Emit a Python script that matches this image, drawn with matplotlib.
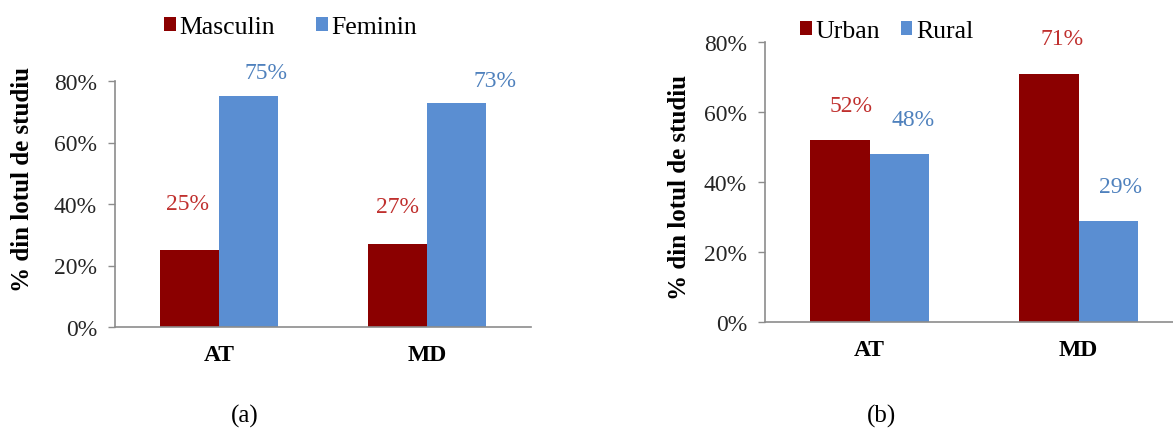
import matplotlib
matplotlib.use("Agg")
import matplotlib.pyplot as plt
from matplotlib.ticker import PercentFormatter

plt.rcParams["font.family"] = ["Liberation Serif", "DejaVu Serif"]

categories = ["AT", "MD"]

# panel (a): sex
sex_labels = ["Masculin", "Feminin"]
masculin = [0.25, 0.27]
feminin = [0.75, 0.73]

# panel (b): residence
res_labels = ["Urban", "Rural"]
urban = [0.52, 0.71]
rural = [0.48, 0.29]

# hand placed value labels (x offset from category, y in data units), like in the source
labels_a = [
    [(-0.15, 0.40), (-0.14, 0.393)],
    [(0.226, 0.829), (0.327, 0.80)],
]
labels_b = [
    [(-0.09, 0.62), (-0.077, 0.81)],
    [(0.21, 0.58), (0.20, 0.386)],
]

RED = "#8B0000"
BLUE = "#5A8ED2"
RED_TXT = "#C0302E"
BLUE_TXT = "#4F81BD"
AXIS = "#8C8C8C"
FS = 17

W, H = 1173, 439
fig = plt.figure(figsize=(W / 100, H / 100), dpi=100)


def px_axes(left, right, top, bottom):
    return fig.add_axes([left / W, (H - bottom) / H, (right - left) / W, (bottom - top) / H])


def draw_panel(ax, s1, s2, names, lab_pos):
    x = range(len(categories))
    width = 0.285
    b1 = ax.bar([i - width / 2 for i in x], s1, width, color=RED, label=names[0])
    b2 = ax.bar([i + width / 2 for i in x], s2, width, color=BLUE, label=names[1])
    for series, pos, col in ((s1, lab_pos[0], RED_TXT), (s2, lab_pos[1], BLUE_TXT)):
        for i, v in enumerate(series):
            dx, y = pos[i]
            ax.text(i + dx, y, f"{v:.0%}", color=col, fontsize=FS, ha="center", va="center")
    ax.set_xlim(-0.5, 1.5)
    ax.set_ylim(0, 0.8)
    ax.set_yticks([0, 0.2, 0.4, 0.6, 0.8])
    ax.yaxis.set_major_formatter(PercentFormatter(1.0, decimals=0))
    ax.set_xticks(list(x))
    ax.set_xticklabels(categories, fontweight="bold", fontsize=FS)
    ax.tick_params(axis="x", length=0, pad=12)
    ax.tick_params(axis="y", length=5, width=1, color=AXIS, pad=8, labelsize=FS, labelcolor="#262626")
    for side in ("top", "right"):
        ax.spines[side].set_visible(False)
    for side in ("left", "bottom"):
        ax.spines[side].set_color(AXIS)
        ax.spines[side].set_linewidth(1.2)
    return b1, b2


ax_a = px_axes(115, 531, 82, 328)
draw_panel(ax_a, masculin, feminin, sex_labels, labels_a)
ax_a.legend(loc="center left", bbox_to_anchor=(164 / W, (H - 28) / H), bbox_transform=fig.transFigure,
            ncol=2, frameon=False, fontsize=FS + 1.5, handlelength=0.45, handleheight=0.45,
            handletextpad=0.15, columnspacing=1.6, borderpad=0, borderaxespad=0)

ax_b = px_axes(765, 1183, 43, 323)
draw_panel(ax_b, urban, rural, res_labels, labels_b)
ax_b.legend(loc="center left", bbox_to_anchor=(800 / W, (H - 32) / H), bbox_transform=fig.transFigure,
            ncol=2, frameon=False, fontsize=FS + 1.5, handlelength=0.45, handleheight=0.45,
            handletextpad=0.15, columnspacing=0.8, borderpad=0, borderaxespad=0)

ylab = "% din lotul de studiu"
fig.text(23 / W, (H - 180) / H, ylab, rotation=90, fontsize=18, fontweight="bold",
         ha="center", va="center")
fig.text(680 / W, (H - 187) / H, ylab, rotation=90, fontsize=18, fontweight="bold",
         ha="center", va="center")

fig.text(245 / W, (H - 416) / H, "(a)", fontsize=18, ha="center", va="center")
fig.text(882 / W, (H - 416) / H, "(b)", fontsize=18, ha="center", va="center")

fig.savefig("out.png", dpi=100)
